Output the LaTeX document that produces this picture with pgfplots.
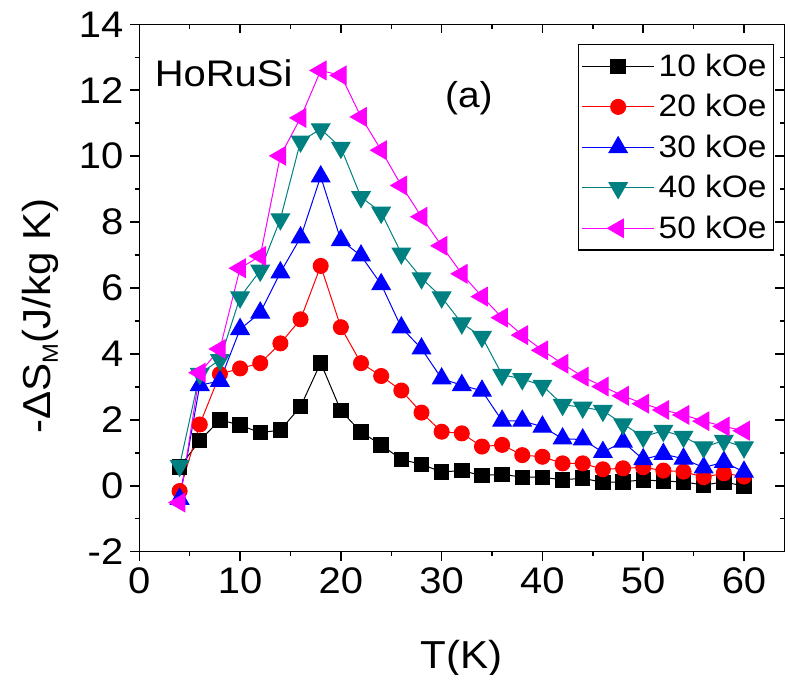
\documentclass[border=0pt]{standalone}
\usepackage{fontspec}
\setmainfont{Liberation Sans}[FakeStretch=1.08]
\usepackage{pgfplots}
\pgfplotsset{compat=1.18}
\definecolor{cteal}{RGB}{0,128,128}
\definecolor{cmag}{RGB}{255,0,255}
\definecolor{cred}{RGB}{255,0,0}
\definecolor{cblue}{RGB}{0,0,255}

\pgfplotstableread{
T s10 s20 s30 s40 s50
4 0.57 -0.16 -0.40 0.61 -0.51
6 1.37 1.86 3.05 3.40 3.43
8 2.00 3.39 3.18 3.82 4.15
10 1.84 3.56 4.75 5.72 6.60
12 1.61 3.72 5.25 6.53 6.97
14 1.69 4.32 6.47 8.09 10.01
16 2.40 5.05 7.53 10.45 11.16
18 3.73 6.67 9.38 10.82 12.60
20 2.28 4.81 7.45 10.26 12.45
22 1.63 3.72 6.98 8.76 11.19
24 1.24 3.33 6.11 8.29 10.18
26 0.80 2.89 4.80 7.05 9.11
28 0.65 2.22 4.16 6.30 8.16
30 0.42 1.64 3.25 5.72 7.28
32 0.46 1.59 3.05 4.93 6.43
34 0.31 1.19 2.88 4.52 5.74
36 0.35 1.24 1.97 3.37 5.10
38 0.26 0.93 1.97 3.24 4.57
40 0.26 0.88 1.79 3.04 4.11
42 0.18 0.68 1.43 2.46 3.70
44 0.23 0.68 1.40 2.38 3.31
46 0.10 0.50 1.02 2.28 3.01
48 0.12 0.53 1.33 1.87 2.73
50 0.18 0.56 0.80 1.49 2.49
52 0.14 0.46 0.96 1.67 2.30
54 0.12 0.43 0.82 1.49 2.15
56 0.02 0.26 0.55 1.17 1.96
58 0.12 0.38 0.72 1.37 1.80
60 -0.01 0.28 0.42 1.17 1.67
}\datatable

\begin{document}
\begin{tikzpicture}
\useasboundingbox (-69.65pt,-61.15pt) rectangle (323.35pt,275.85pt);
\pgfplotsset{
  common/.style={
    at={(0,0)}, anchor=south west,
    scale only axis, width=322.5pt, height=263.7pt,
    xmin=0, xmax=64, ymin=-2, ymax=14,
    xtick={0,10,...,60}, ytick={-2,0,...,14},
    minor x tick num=1, minor y tick num=1,
    major tick length=4.5pt, minor tick length=2.3pt,
    tick style={line width=0.75pt, black},
    axis line style={line width=0.75pt},
  }
}
\begin{axis}[
  common,
  tick align=outside,
  xtick pos=left, ytick pos=left,
  /pgf/number format/assume math mode=true,
  tick label style={font=\fontsize{18.5}{18.5}\selectfont},
  xlabel={T(K)},
  xlabel style={font=\fontsize{19.5}{19.5}\selectfont, at={(axis description cs:0.5,0)}, anchor=north, yshift=-44pt, inner sep=0pt},
  ylabel={-ΔS\raisebox{-3.5pt}{\fontsize{11}{11}\selectfont M}(J/kg K)},
  ylabel style={font=\fontsize{19.5}{19.5}\selectfont, at={(axis description cs:-0.1369,0.447)}, anchor=base, inner sep=0pt},
  legend cell align=left,
  legend image code/.code={\draw[mark repeat=2,mark phase=2,#1] plot coordinates {(0pt,0pt) (18pt,0pt) (36pt,0pt)};},
  legend style={at={(rel axis cs:1,1)}, anchor=north east, xshift=-5pt, yshift=-9.85pt,
    draw=black, line width=0.7pt, font=\fontsize{15.5}{15.5}\selectfont,
    inner xsep=1.5pt, inner ysep=2.5pt, row sep=3.5pt,
    /tikz/every even column/.append style={column sep=3.5pt}},
]
\addplot[black, line width=0.5pt, mark=square*, mark size=3.6pt] table[x=T,y=s10] {\datatable};
\addlegendentry{10 kOe}
\addplot[cred, line width=0.5pt, mark=*, mark size=3.75pt] table[x=T,y=s20] {\datatable};
\addlegendentry{20 kOe}
\addplot[cblue, line width=0.5pt, mark=triangle*, mark size=5.3pt] table[x=T,y=s30] {\datatable};
\addlegendentry{30 kOe}
\addplot[cteal, line width=0.5pt, mark=triangle*, mark size=5.3pt, mark options={rotate=180}] table[x=T,y=s40] {\datatable};
\addlegendentry{40 kOe}
\addplot[cmag, line width=0.5pt, mark=triangle*, mark size=5.3pt, mark options={rotate=90}] table[x=T,y=s50] {\datatable};
\addlegendentry{50 kOe}
\node[anchor=base west, inner sep=0pt, font=\fontsize{18.5}{18.5}\selectfont] at (axis cs:1.5,12.11) {HoRuSi};
\node[anchor=base west, inner sep=0pt, font=\fontsize{18}{18}\selectfont] at (axis cs:30.3,11.49) {(a)};
\end{axis}
\begin{axis}[
  common,
  tick align=inside,
  xtick pos=right, ytick pos=right,
  xticklabels={}, yticklabels={},
]
\end{axis}
\end{tikzpicture}
\end{document}
